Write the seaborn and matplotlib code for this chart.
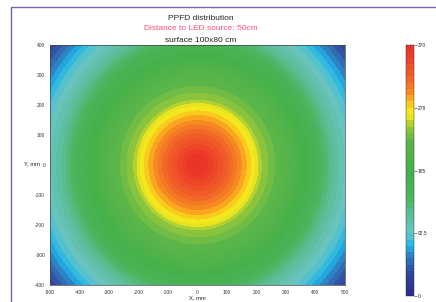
import numpy as np
import matplotlib
matplotlib.use("Agg")
import matplotlib.pyplot as plt
import seaborn as sns
from matplotlib.colors import LinearSegmentedColormap
from matplotlib.patches import Rectangle

# radial PPFD profile (distance from centre, mm -> value)
radius_mm = [0, 30, 50, 100, 150, 170, 195, 215, 245, 290, 340, 400, 460, 500, 540, 580, 620, 660, 700]
ppfd = [370, 363, 352, 326, 295, 284, 268, 250, 238, 220, 196, 160, 120, 100, 82, 60, 38, 22, 10]

x_ticks = [-500, -400, -300, -200, -100, 0, 100, 200, 300, 400, 500]
y_ticks = [-400, -300, -200, -100, 0, 100, 200, 300, 400]
cbar_ticks = [0, 92.5, 185, 277.5, 370]
cbar_labels = ["0", "92.5", "185", "278", "370"]

cmap_stops = [0.0, 0.07, 0.12, 0.16, 0.2, 0.25, 0.32, 0.4, 0.5, 0.62, 0.68, 0.71, 0.74,
              0.77, 0.8, 0.86, 0.93, 1.0]
cmap_colors = ["#2e2a88", "#2f3f98", "#3159a6", "#2e82c4", "#1fb5e8", "#6cc6c4", "#5cbd9c",
               "#4cb45a", "#45b04a", "#5cb648", "#9cc93c", "#e4e222", "#f5e91c",
               "#f9c41d", "#f7941f", "#f26a27", "#ee4a28", "#ea2f28"]

sns.set_style("white")
plt.rcParams["font.family"] = ["Liberation Sans", "DejaVu Sans"]
plt.rcParams["axes.unicode_minus"] = False

fig = plt.figure(figsize=(4.36, 3.02), dpi=100)
ax = fig.add_axes([0.1147, 0.0563, 0.6766, 0.7947])
cax = fig.add_axes([0.931, 0.0199, 0.0183, 0.831])

xs = np.linspace(-500, 500, 301)
ys = np.linspace(-400, 400, 241)
X, Y = np.meshgrid(xs, ys)
Z = np.interp(np.hypot(X, Y), radius_mm, ppfd)

cmap = LinearSegmentedColormap.from_list("ppfd", list(zip(cmap_stops, cmap_colors)))
levels = np.linspace(0, 370, 41)
cs = ax.contourf(X, Y, Z, levels=levels, cmap=cmap, vmin=0, vmax=370)

ax.set_xlim(-500, 500)
ax.set_ylim(-400, 400)
ax.set_xticks(x_ticks)
ax.set_yticks(y_ticks)
ax.tick_params(labelsize=3.5, length=2, width=0.4, pad=1.5, colors="#333333")
for s in ax.spines.values():
    s.set_linewidth(0.5)
    s.set_color("#444444")
ax.set_xlabel("X, mm", fontsize=4.2, labelpad=0.5)
ax.set_ylabel("Y, mm", fontsize=4.2, rotation=0, labelpad=1)
ax.yaxis.set_label_coords(-0.062, 0.493)

cb = fig.colorbar(cs, cax=cax, ticks=cbar_ticks)
cb.ax.set_yticklabels(cbar_labels)
cb.ax.tick_params(labelsize=3.5, length=2, width=0.4, pad=1)
cb.outline.set_linewidth(0.3)

fig.text(0.46, 0.94, "PPFD distribution", ha="center", va="center", fontsize=6)
fig.text(0.46, 0.904, "Distance to LED source: 50cm", ha="center", va="center",
         fontsize=6, color="#ff4f7e")
fig.text(0.46, 0.867, "surface 100x80 cm", ha="center", va="center", fontsize=6)

# page frame from the scanned document
fig.patches.append(Rectangle((11 / 436, -0.1), 1.2, 1.1 - 6.5 / 302, transform=fig.transFigure,
                             fill=False, edgecolor="#7c5fa6", linewidth=1.0))

fig.savefig("out.png", dpi=100)
